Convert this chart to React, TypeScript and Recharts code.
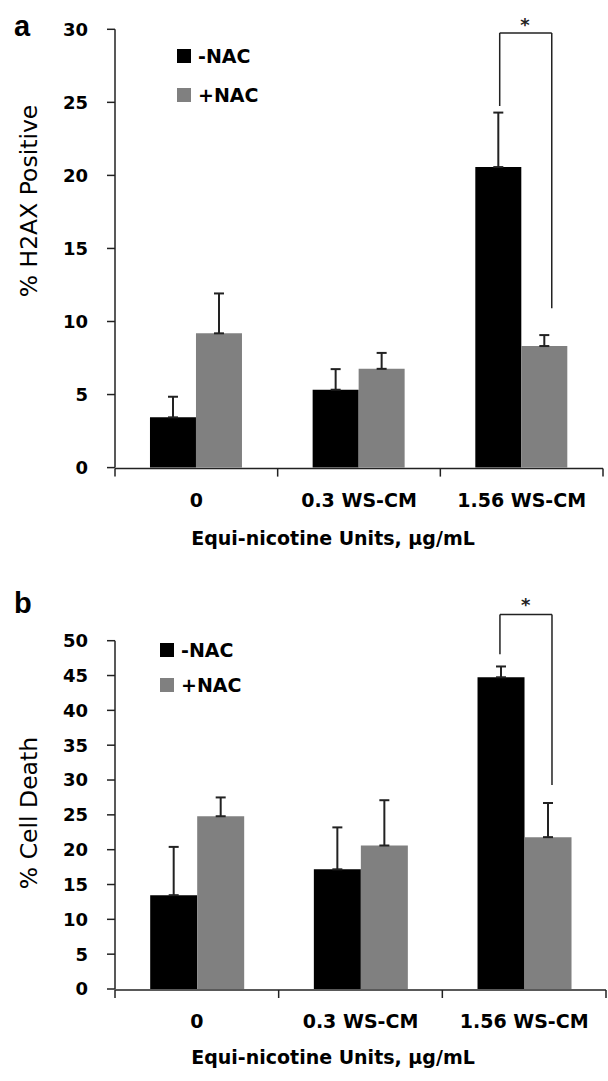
import React from 'react';
import {
  BarChart,
  Bar,
  XAxis,
  YAxis,
  ErrorBar,
  Legend,
  Label,
  ReferenceLine,
  ReferenceDot,
} from 'recharts';

const categories = ['0', '0.3 WS-CM', '1.56 WS-CM'];
const seriesNames = ['-NAC', '+NAC'];

// panel a : % H2AX positive
const h2axMinus = [3.44, 5.33, 20.57];
const h2axMinusErr = [1.41, 1.41, 3.73];
const h2axPlus = [9.19, 6.76, 8.32];
const h2axPlusErr = [2.73, 1.09, 0.75];
const h2axTicks = [0, 5, 10, 15, 20, 25, 30];

// panel b : % cell death
const deathMinus = [13.47, 17.18, 44.75];
const deathMinusErr = [6.93, 6.02, 1.55];
const deathPlus = [24.8, 20.6, 21.8];
const deathPlusErr = [2.7, 6.5, 4.9];
const deathTicks = [0, 5, 10, 15, 20, 25, 30, 35, 40, 45, 50];

// significance brackets, x in category units (0..3), y in axis units
// [left leg x, right leg x], [left leg bottom, top, right leg bottom]
const bracketXA = [2.365, 2.685];
const bracketYA = [24.75, 29.75, 10.9];
const starA = [2.52, 30.3];
const bracketXB = [2.352, 2.67];
const bracketYB = [48.06, 53.76, 29.27];
const starB = [2.51, 55.2];

const boundaryTicks = [0, 1, 2, 3];

const FONT = '"DejaVu Sans", sans-serif';
const AXIS = '#222';

const buildRows = (minus: number[], minusErr: number[], plus: number[], plusErr: number[]) =>
  categories.map((name, i) => ({
    name,
    pos: i + 0.5,
    minus: minus[i],
    plus: plus[i],
    minusErr: [0, minusErr[i]],
    plusErr: [0, plusErr[i]],
  }));

const dataA = buildRows(h2axMinus, h2axMinusErr, h2axPlus, h2axPlusErr);
const dataB = buildRows(deathMinus, deathMinusErr, deathPlus, deathPlusErr);

const LegendBlock = ({ payload, pitch }: any) => {
  // keep the series order (-NAC first)
  const items = seriesNames
    .map((n) => (payload || []).find((p: any) => p.value === n))
    .filter(Boolean);
  return (
    <div style={{ fontFamily: FONT, fontWeight: 700, fontSize: 19, color: '#000' }}>
      {items.map((p: any) => (
        <div
          key={p.value}
          style={{ display: 'flex', alignItems: 'center', height: 14, lineHeight: '14px', marginBottom: pitch - 14 }}
        >
          <span style={{ width: 14, height: 14, background: p.color, marginRight: 7, display: 'inline-block' }} />
          <span>{p.value}</span>
        </div>
      ))}
    </div>
  );
};

type PanelProps = {
  data: any[];
  height: number;
  margin: { top: number; right: number; bottom: number; left: number };
  yMax: number;
  yTicks: number[];
  yTitle: string;
  yTitleCy: number;
  xTitleBaseline: number;
  legendPos: { left: number; top: number };
  legendPitch: number;
  bracketX: number[];
  bracketY: number[];
  star: number[];
};

const Panel = (p: PanelProps) => {
  const yTickStyle = { fill: '#000', fontSize: 18, fontWeight: 700, fontFamily: FONT };
  const xTickStyle = { fill: '#000', fontSize: 19, fontWeight: 700, fontFamily: FONT };
  return (
    <BarChart width={608} height={p.height} data={p.data} margin={p.margin} barCategoryGap="21.5%" barGap={0}>
      {/* category boundaries (tick marks between groups) */}
      <XAxis
        xAxisId="pos"
        dataKey="pos"
        type="number"
        domain={[0, 3]}
        allowDataOverflow
        ticks={boundaryTicks}
        interval={0}
        height={1}
        tickSize={8}
        tickFormatter={() => ''}
        axisLine={{ stroke: AXIS, strokeWidth: 1.5 }}
        tickLine={{ stroke: AXIS, strokeWidth: 1.5 }}
      />
      <XAxis
        xAxisId="cat"
        dataKey="name"
        height={1}
        interval={0}
        axisLine={false}
        tickLine={false}
        tickSize={0}
        tickMargin={26}
        tick={xTickStyle}
      >
        <Label
          content={() => (
            <text
              x={333}
              y={p.xTitleBaseline}
              textAnchor="middle"
              fontFamily={FONT}
              fontWeight={700}
              fontSize={19}
              fill="#000"
            >
              Equi-nicotine Units, µg/mL
            </text>
          )}
        />
      </XAxis>
      <YAxis
        domain={[0, p.yMax]}
        ticks={p.yTicks}
        interval={0}
        width={115}
        tickSize={8}
        tickMargin={19}
        tick={yTickStyle}
        axisLine={{ stroke: AXIS, strokeWidth: 1.5 }}
        tickLine={{ stroke: AXIS, strokeWidth: 1.5 }}
      >
        <Label
          content={() => (
            <text
              x={37}
              y={p.yTitleCy}
              transform={`rotate(-90, 37, ${p.yTitleCy})`}
              textAnchor="middle"
              fontFamily={FONT}
              fontSize={23.5}
              fill="#000"
            >
              {p.yTitle}
            </text>
          )}
        />
      </YAxis>
      <Legend
        layout="vertical"
        align="center"
        verticalAlign="middle"
        wrapperStyle={{ left: p.legendPos.left, top: p.legendPos.top, width: 'auto', height: 'auto' }}
        content={(props: any) => <LegendBlock payload={props.payload} pitch={p.legendPitch} />}
      />
      <Bar xAxisId="cat" dataKey="minus" name={seriesNames[0]} fill="#000000" isAnimationActive={false}>
        <ErrorBar dataKey="minusErr" direction="y" width={5} stroke={AXIS} strokeWidth={2} isAnimationActive={false} />
      </Bar>
      <Bar xAxisId="cat" dataKey="plus" name={seriesNames[1]} fill="#808080" isAnimationActive={false}>
        <ErrorBar dataKey="plusErr" direction="y" width={5} stroke={AXIS} strokeWidth={2} isAnimationActive={false} />
      </Bar>
      {/* bracket */}
      <ReferenceLine
        xAxisId="pos"
        ifOverflow="visible"
        stroke={AXIS}
        strokeWidth={1.5}
        segment={[
          { x: p.bracketX[0], y: p.bracketY[0] },
          { x: p.bracketX[0], y: p.bracketY[1] },
        ]}
      />
      <ReferenceLine
        xAxisId="pos"
        ifOverflow="visible"
        stroke={AXIS}
        strokeWidth={1.5}
        segment={[
          { x: p.bracketX[0], y: p.bracketY[1] },
          { x: p.bracketX[1], y: p.bracketY[1] },
        ]}
      />
      <ReferenceLine
        xAxisId="pos"
        ifOverflow="visible"
        stroke={AXIS}
        strokeWidth={1.5}
        segment={[
          { x: p.bracketX[1], y: p.bracketY[1] },
          { x: p.bracketX[1], y: p.bracketY[2] },
        ]}
      />
      <ReferenceDot
        xAxisId="pos"
        x={p.star[0]}
        y={p.star[1]}
        r={0}
        fill="none"
        stroke="none"
        ifOverflow="visible"
        label={{ value: '*', position: 'center', fontSize: 18, fontWeight: 700, fill: '#222', fontFamily: FONT }}
      />
    </BarChart>
  );
};

export default function App() {
  return (
    <div style={{ position: 'absolute', left: 0, top: 0, width: 608, height: 1081, background: '#fff' }}>
      <div style={{ position: 'absolute', left: 0, top: 0 }}>
        <Panel
          data={dataA}
          height={560}
          margin={{ top: 29.3, right: 5, bottom: 90.4, left: 0 }}
          yMax={30}
          yTicks={h2axTicks}
          yTitle="% H2AX Positive"
          yTitleCy={201}
          xTitleBaseline={545}
          legendPos={{ left: 177, top: 49 }}
          legendPitch={39}
          bracketX={bracketXA}
          bracketY={bracketYA}
          star={starA}
        />
      </div>
      <div style={{ position: 'absolute', left: 0, top: 560 }}>
        <Panel
          data={dataB}
          height={521}
          margin={{ top: 80.7, right: 2, bottom: 90, left: 0 }}
          yMax={50}
          yTicks={deathTicks}
          yTitle="% Cell Death"
          yTitleCy={253}
          xTitleBaseline={504}
          legendPos={{ left: 160, top: 82.7 }}
          legendPitch={35.5}
          bracketX={bracketXB}
          bracketY={bracketYB}
          star={starB}
        />
      </div>
      <svg width={608} height={1081} style={{ position: 'absolute', left: 0, top: 0, pointerEvents: 'none' }}>
        <text x={14} y={36} fontFamily='"Liberation Sans", Arial, sans-serif' fontWeight={700} fontSize={29} fill="#000">
          a
        </text>
        <text x={14} y={613} fontFamily='"Liberation Sans", Arial, sans-serif' fontWeight={700} fontSize={29} fill="#000">
          b
        </text>
      </svg>
    </div>
  );
}
